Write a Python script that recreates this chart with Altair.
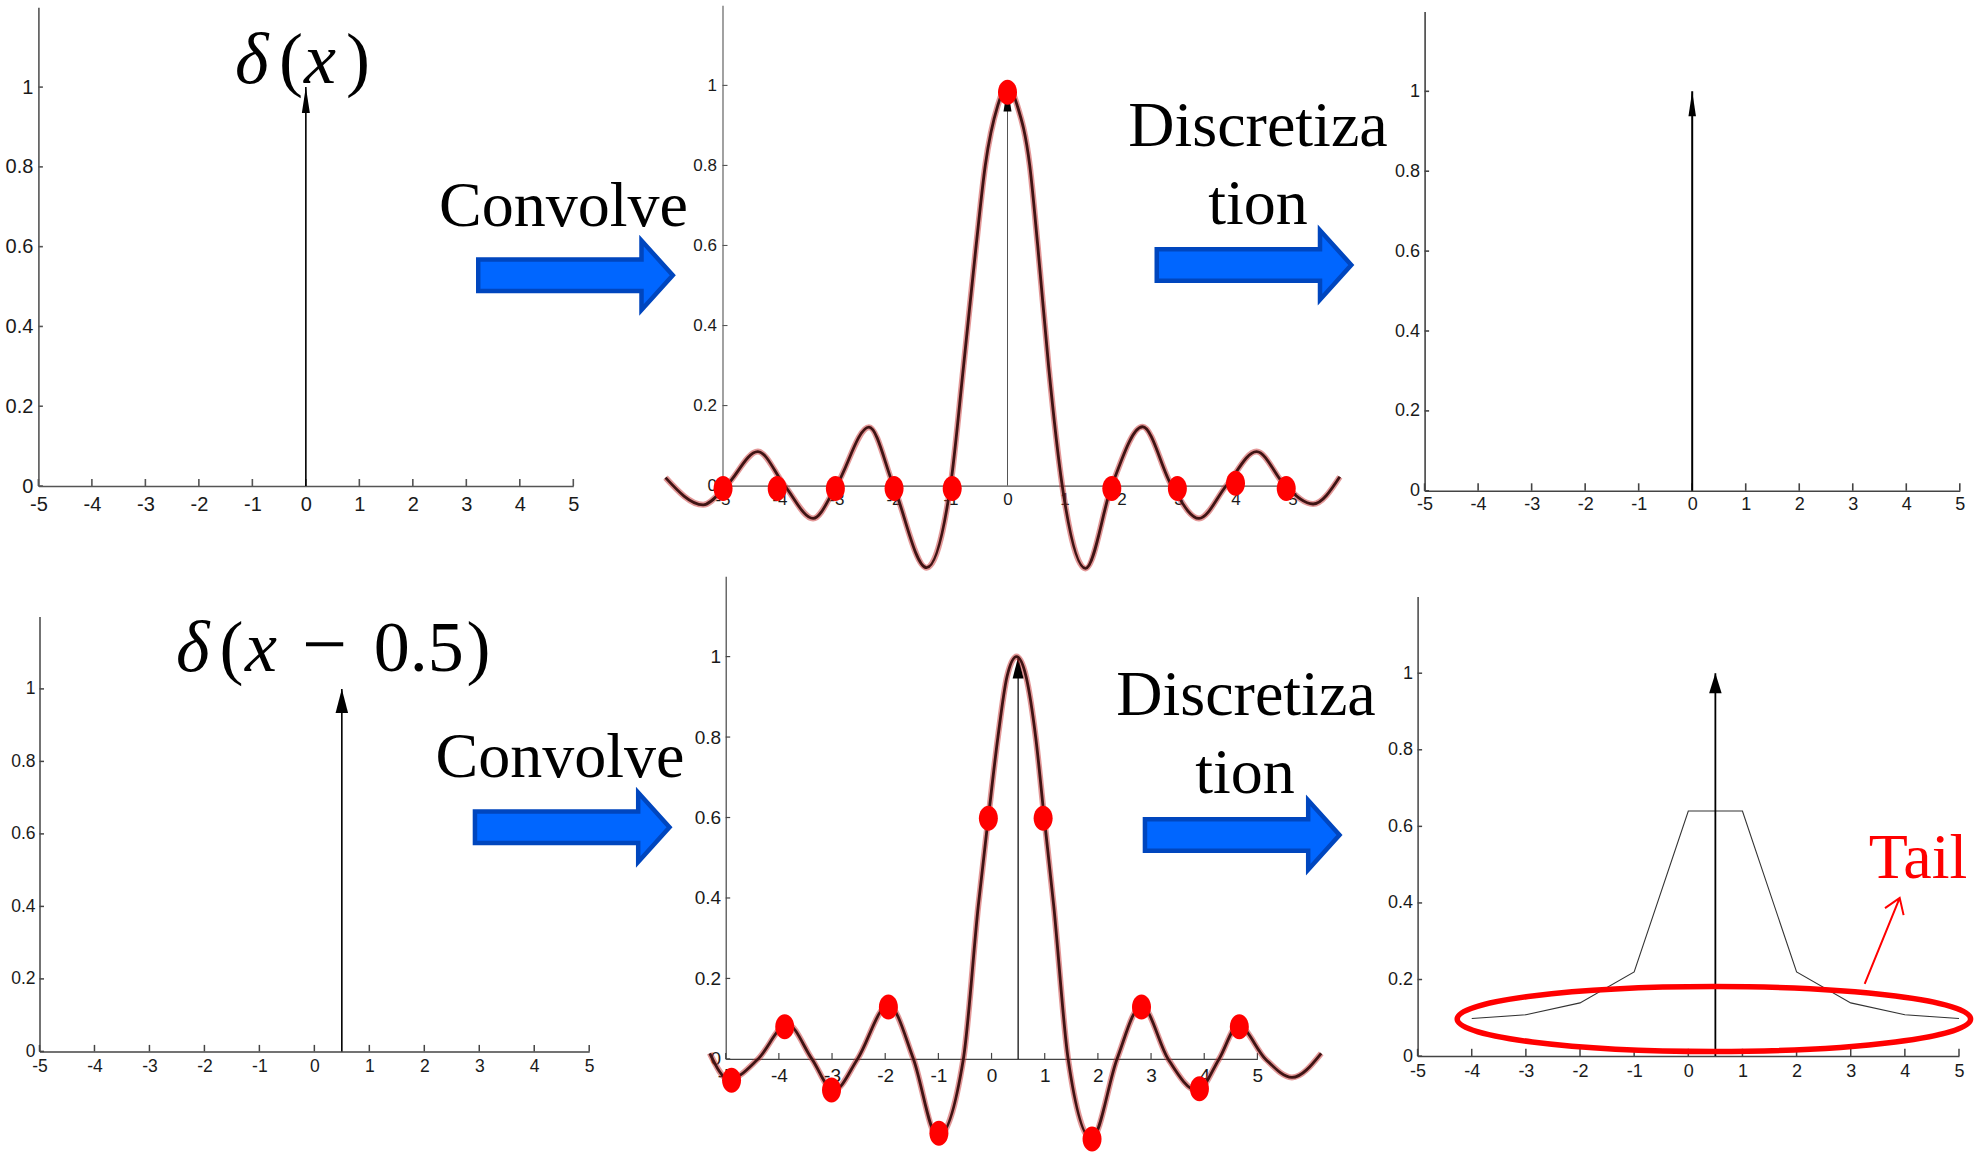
import altair as alt
import pandas as pd

W, H = 1988, 1153

# ---------------- data ----------------
X_TICKS = [-5, -4, -3, -2, -1, 0, 1, 2, 3, 4, 5]
Y_TICKS = [0, 0.2, 0.4, 0.6, 0.8, 1]
Y_MAX = 1.2
IMPULSE_HEIGHT = 1.0

# top row: delta(x)
IMPULSE_TOP_X = 0.0
CONV_TOP_X = [-6.0, -5.34, -4.93, -4.38, -3.91, -3.41, -3.0, -2.43, -2.0, -1.42, -1.0,
              -0.77, -0.55, -0.39, -0.17, 0.0, 0.17, 0.39, 0.53, 0.72, 0.96, 1.37,
              1.83, 2.37, 2.88, 3.36, 3.84, 4.37, 4.87, 5.36, 5.83]
CONV_TOP_Y = [0.02, -0.048, 0.0, 0.085, 0.0, -0.082, 0.0, 0.146, 0.0, -0.205, 0.0,
              0.30, 0.60, 0.80, 0.95, 1.0, 0.95, 0.80, 0.60, 0.30, 0.0, -0.207,
              0.0, 0.147, 0.0, -0.082, 0.0, 0.085, 0.0, -0.046, 0.022]
SAMPLES_TOP_X = [-4.99, -4.04, -3.02, -1.99, -0.97, 0.0, 1.83, 2.98, 4.0, 4.89]
SAMPLES_TOP_Y = [-0.007, -0.007, -0.007, -0.007, -0.007, 0.983, -0.007, -0.007, 0.006, -0.007]

# bottom row: delta(x - 0.5)
IMPULSE_BOT_X = 0.5
CONV_BOT_X = [-5.30, -4.94, -4.39, -3.84, -3.38, -2.97, -2.52, -1.94, -1.47, -1.01, -0.53,
              -0.25, -0.06, 0.12, 0.29, 0.47, 0.65, 0.83, 0.99, 1.17, 1.44, 1.88,
              2.36, 2.82, 3.32, 3.87, 4.28, 4.64, 5.15, 5.65, 6.20]
CONV_BOT_Y = [0.014, -0.051, 0.0, 0.086, 0.0, -0.079, 0.0, 0.134, 0.0, -0.194, 0.0,
              0.38, 0.60, 0.80, 0.95, 1.0, 0.95, 0.80, 0.60, 0.38, 0.0, -0.199,
              0.0, 0.132, 0.0, -0.079, 0.0, 0.083, 0.0, -0.046, 0.014]
SAMPLES_BOT_X = [-4.89, -3.89, -3.01, -1.94, -0.99, -0.06, 0.97, 1.89, 2.82, 3.91, 4.66]
SAMPLES_BOT_Y = [-0.053, 0.080, -0.077, 0.129, -0.185, 0.598, 0.598, -0.199, 0.129, -0.074, 0.080]
DISC_BOT_X = [-4, -3, -2, -1, 0, 1, 2, 3, 4, 5]
DISC_BOT_Y = [0.098, 0.108, 0.139, 0.220, 0.640, 0.640, 0.220, 0.139, 0.108, 0.098]

# ---------------- styles ----------------
SERIF = "Liberation Serif, Times New Roman, serif"
SANS = "Liberation Sans, Arial, sans-serif"
NARROW = "Liberation Sans Narrow, Liberation Sans, Arial, sans-serif"
BLUE_FILL = "#0066FF"
BLUE_EDGE = "#0046BE"
RED = "#FF0000"

TICK_UP = "M0,0 L0,-1"
TICK_RIGHT = "M0,0 L1,0"
ARROW_BLOCK = ("M-0.9775,-0.1575 L0.655,-0.1575 L0.655,-0.347 L0.968,0 "
               "L0.655,0.347 L0.655,0.1575 L-0.9775,0.1575 Z")
TAIL_ARROW = "M-0.35,0.86 L0,0 M-0.147,0.102 L0,0 L0.039,0.172"


def ellipse_path(a, b):
    k = 0.5523
    r = lambda v: f"{v:.4f}"
    return (f"M{r(-a)},0 C{r(-a)},{r(-k*b)} {r(-k*a)},{r(-b)} 0,{r(-b)} "
            f"C{r(k*a)},{r(-b)} {r(a)},{r(-k*b)} {r(a)},0 "
            f"C{r(a)},{r(k*b)} {r(k*a)},{r(b)} 0,{r(b)} "
            f"C{r(-k*a)},{r(b)} {r(-a)},{r(k*b)} {r(-a)},0 Z")


DOT_SHAPE = ellipse_path(0.76, 1.0)
ONE = pd.DataFrame({"a": [0]})

G1 = dict(xl=38.4, xr=573.3, y0=486.0, y1=87.1, font=NARROW, fs=20, xpad=8, ypad=5.5,
          dc="#555555", dw=1.6, xtl=7, ytl=4.5)
G2 = dict(xl=722.5, xr=1292.5, y0=485.6, y1=85.4, font=SANS, fs=17, xpad=6, ypad=6,
          dc="#555555", dw=1.1, xtl=0, ytl=5)
G3 = dict(xl=1424.6, xr=1959.8, y0=490.8, y1=91.3, font=SANS, fs=18, xpad=5, ypad=5,
          dc="#444444", dw=1.6, xtl=7.5, ytl=4.5)
G4 = dict(xl=39.5, xr=589.2, y0=1051.4, y1=688.9, font=SANS, fs=17.5, xpad=6, ypad=4.5,
          dc="#444444", dw=1.5, xtl=6.5, ytl=4.5)
G5 = dict(xl=725.7, xr=1257.4, y0=1058.9, y1=656.6, font=NARROW, fs=19, xpad=7.5, ypad=5,
          dc="#444444", dw=1.2, xtl=6, ytl=4.5)
G6 = dict(xl=1417.6, xr=1959.0, y0=1056.1, y1=673.2, font=SANS, fs=18, xpad=6.5, ypad=5,
          dc="#444444", dw=1.5, xtl=7.3, ytl=4.5)


class Panel:
    """Holds one panel's scales and axes; every layer uses the same axis specs
    so that Vega-Lite merges them into a single shared axis pair."""

    def __init__(self, g):
        self.g = g
        self.xs = alt.Scale(domain=[-5, 5], range=[g["xl"], g["xr"]], nice=False, zero=False)
        self.ys = alt.Scale(domain=[0, Y_MAX],
                            range=[g["y0"], g["y0"] - Y_MAX * (g["y0"] - g["y1"])],
                            nice=False, zero=False)
        common = dict(title=None, ticks=False, grid=False, labelExpr="toString(datum.value)",
                      labelFont=g["font"], labelFontSize=g["fs"], labelColor="#1a1a1a",
                      labelFlush=False, labelOverlap=False, labelBound=False,
                      domainColor=g["dc"], domainWidth=g["dw"])
        self.xa = alt.Axis(values=X_TICKS, orient="bottom", offset=g["y0"] - H,
                           labelPadding=g["xpad"], **common)
        self.ya = alt.Axis(values=Y_TICKS, orient="left", offset=-g["xl"],
                           labelPadding=g["ypad"], **common)

    def x(self, field):
        return alt.X(field, scale=self.xs, axis=self.xa)

    def y(self, field):
        return alt.Y(field, scale=self.ys, axis=self.ya)

    def axis_ticks(self):
        g = self.g
        xt = alt.Chart(pd.DataFrame({"t": X_TICKS, "z": [0.0] * len(X_TICKS)})).mark_point(
            shape=TICK_UP, size=max(4 * g["xtl"] ** 2, 1), filled=False, stroke=g["dc"],
            strokeWidth=g["dw"], opacity=1, strokeOpacity=1 if g["xtl"] > 0 else 0
        ).encode(x=self.x("t:Q"), y=self.y("z:Q"))
        yt = alt.Chart(pd.DataFrame({"v": Y_TICKS, "l": [-5.0] * len(Y_TICKS)})).mark_point(
            shape=TICK_RIGHT, size=4 * g["ytl"] ** 2, filled=False, stroke=g["dc"],
            strokeWidth=g["dw"], opacity=1
        ).encode(x=self.x("l:Q"), y=self.y("v:Q"))
        return [xt, yt]

    def impulse(self, x, color, width, head_h, head_w):
        df = pd.DataFrame({"x": [x], "y": [0.0], "y2": [IMPULSE_HEIGHT]})
        hw = (head_w / 2) / head_h
        shaft = alt.Chart(df).mark_rule(color=color, strokeWidth=width).encode(
            x=self.x("x:Q"), y=self.y("y:Q"), y2="y2:Q")
        head = alt.Chart(df).mark_point(
            shape=f"M0,0 L{-hw:.4f},1 L{hw:.4f},1 Z", size=4 * head_h ** 2, filled=True,
            fill="black", strokeWidth=0, opacity=1
        ).encode(x=self.x("x:Q"), y=self.y("y2:Q"))
        return [shaft, head]

    def curve(self, xv, yv):
        df = pd.DataFrame({"x": xv, "y": yv})
        halo = alt.Chart(df).mark_line(interpolate="monotone", color="#c83232",
                                       strokeWidth=6, opacity=0.5).encode(
            x=self.x("x:Q"), y=self.y("y:Q"))
        core = alt.Chart(df).mark_line(interpolate="monotone", color="#3f1414",
                                       strokeWidth=2.8).encode(
            x=self.x("x:Q"), y=self.y("y:Q"))
        return [halo, core]

    def dots(self, xv, yv):
        df = pd.DataFrame({"x": xv, "y": yv})
        return [alt.Chart(df).mark_point(shape=DOT_SHAPE, size=625, filled=True, fill=RED,
                                         strokeWidth=0, opacity=1).encode(
            x=self.x("x:Q"), y=self.y("y:Q"))]

    def polyline(self, xv, yv):
        df = pd.DataFrame({"x": xv, "y": yv})
        return [alt.Chart(df).mark_line(color="#333333", strokeWidth=1.1).encode(
            x=self.x("x:Q"), y=self.y("y:Q"))]


def txt(s, x, y, size, color="black", font=SERIF, style="normal", align="left"):
    return alt.Chart(ONE).mark_text(text=s, fontSize=size, font=font, fontStyle=style,
                                    align=align, baseline="alphabetic", color=color).encode(
        x=alt.value(x), y=alt.value(y))


def block_arrow(cx, cy):
    return alt.Chart(ONE).mark_point(shape=ARROW_BLOCK, size=40000, filled=True,
                                     fill=BLUE_FILL, stroke=BLUE_EDGE, strokeWidth=4.5,
                                     strokeJoin="miter", opacity=1).encode(
        x=alt.value(cx), y=alt.value(cy))


# ---------------- panels ----------------
P1 = Panel(G1)
p1 = alt.layer(*P1.axis_ticks(), *P1.impulse(IMPULSE_TOP_X, "black", 1.6, 26, 8))

P2 = Panel(G2)
p2 = alt.layer(*P2.axis_ticks(),
               *P2.impulse(IMPULSE_TOP_X, "#555555", 1.0, 26, 8),
               *P2.curve(CONV_TOP_X, CONV_TOP_Y),
               *P2.dots(SAMPLES_TOP_X, SAMPLES_TOP_Y))

P3 = Panel(G3)
p3 = alt.layer(*P3.axis_ticks(), *P3.impulse(IMPULSE_TOP_X, "black", 2.0, 25, 7.5))

P4 = Panel(G4)
p4 = alt.layer(*P4.axis_ticks(), *P4.impulse(IMPULSE_BOT_X, "black", 1.6, 24, 12.5))

P5 = Panel(G5)
p5 = alt.layer(*P5.axis_ticks(),
               *P5.impulse(IMPULSE_BOT_X, "black", 1.2, 22, 11),
               *P5.curve(CONV_BOT_X, CONV_BOT_Y),
               *P5.dots(SAMPLES_BOT_X, SAMPLES_BOT_Y))

P6 = Panel(G6)
p6 = alt.layer(*P6.axis_ticks(), *P6.polyline(DISC_BOT_X, DISC_BOT_Y),
               *P6.impulse(IMPULSE_BOT_X, "black", 1.8, 20, 12.5))

# ---------------- annotations ----------------
ann = alt.layer(
    # delta(x)
    txt("δ", 235, 83, 72, style="italic"),
    txt("(", 279, 83, 72),
    txt("x", 304, 83, 72, style="italic"),
    txt(")", 346, 83, 72),
    # delta(x - 0.5)
    txt("δ", 176, 671, 72, style="italic"),
    txt("(", 219.5, 671, 72),
    txt("x", 245, 671, 72, style="italic"),
    txt("−", 302, 671, 80),
    txt("0.5", 373.7, 671, 72),
    txt(")", 466.6, 671, 72),
    # Convolve / Discretization labels
    txt("Convolve", 563.5, 226, 64, align="center"),
    txt("Convolve", 560, 777, 64, align="center"),
    txt("Discretiza", 1258, 146, 64, align="center"),
    txt("tion", 1258, 223.5, 64, align="center"),
    txt("Discretiza", 1246, 715, 64, align="center"),
    txt("tion", 1245, 792.7, 64, align="center"),
    # block arrows
    block_arrow(576, 275.3),
    block_arrow(1254.5, 265),
    block_arrow(572.7, 827.3),
    block_arrow(1242.7, 835),
    # tail
    alt.Chart(ONE).mark_point(shape=ellipse_path(1.0, 0.1267), size=(2 * 256.7) ** 2,
                              filled=False, stroke=RED, strokeWidth=5.5, opacity=1).encode(
        x=alt.value(1713.9), y=alt.value(1019)),
    alt.Chart(ONE).mark_point(shape=TAIL_ARROW, size=40000, filled=False, stroke=RED,
                              strokeWidth=2, opacity=1).encode(
        x=alt.value(1899.7), y=alt.value(897.9)),
    txt("Tail", 1918, 878, 64, color=RED, align="center"),
)

chart = alt.layer(p1, p2, p3, p4, p5, p6, ann).resolve_scale(
    x="independent", y="independent"
).properties(
    width=W, height=H, padding=0, autosize=alt.AutoSizeParams(type="none"), background="white"
).configure_view(stroke=None)

chart.save("out.html", embed_options={"renderer": "svg", "actions": False})
